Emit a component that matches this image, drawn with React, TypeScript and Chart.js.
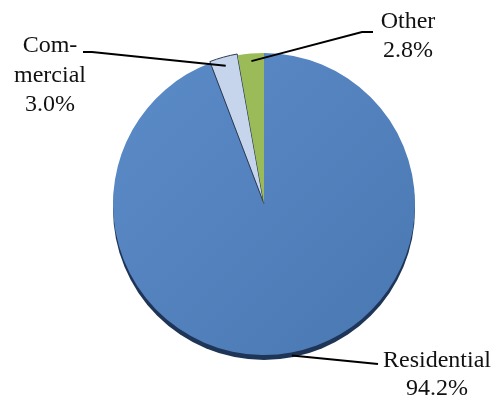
import React, { useEffect, useRef } from "react";
import { Chart, registerables } from "chart.js";

Chart.register(...registerables);

const categories = ["Residential", "Commercial", "Other"];
const values = [94.2, 3.0, 2.8];
const labelLines = [["Residential"], ["Com-", "mercial"], ["Other"]];
const sliceColors = ["#4F81BD", "#C6D5EC", "#9BBB59"];

// label layout: text box (centre x, top y, line height) and leader path end points
const labelLayout = [
  { cx: 437, top: 345, lh: 28, radial: 1.02, path: [[378, 364]] },
  { cx: 50, top: 30, lh: 29.5, radial: 0.95, path: [[92, 52], [83, 52]] },
  { cx: 408, top: 6, lh: 29, radial: 0.95, path: [[362, 32], [373, 32]] },
];

const shadowPlugin = {
  id: "pieShadow",
  beforeDatasetsDraw(chart: any) {
    const meta = chart.getDatasetMeta(0);
    const arc = meta.data[0];
    if (!arc) return;
    const { x, y, outerRadius } = arc.getProps(["x", "y", "outerRadius"], true);
    const ctx = chart.ctx;
    ctx.save();
    ctx.beginPath();
    ctx.arc(x, y + 5, outerRadius, 0, Math.PI * 2);
    ctx.fillStyle = "#1E3558";
    ctx.fill();
    ctx.restore();
  },
};

const leaderPlugin = {
  id: "pieLeaders",
  afterDatasetsDraw(chart: any) {
    const ctx = chart.ctx;
    const meta = chart.getDatasetMeta(0);
    meta.data.forEach((arc: any, i: number) => {
      const { x, y, startAngle, endAngle, outerRadius } = arc.getProps(
        ["x", "y", "startAngle", "endAngle", "outerRadius"],
        true
      );
      const mid = (startAngle + endAngle) / 2;
      const L = labelLayout[i];
      const ax = x + Math.cos(mid) * outerRadius * L.radial;
      const ay = y + Math.sin(mid) * outerRadius * L.radial;
      ctx.save();
      ctx.strokeStyle = "#000";
      ctx.lineWidth = 2;
      ctx.beginPath();
      ctx.moveTo(ax, ay);
      L.path.forEach((p) => ctx.lineTo(p[0], p[1]));
      ctx.stroke();
      ctx.restore();
    });
  },
};

export default function App() {
  const ref = useRef<HTMLCanvasElement | null>(null);
  useEffect(() => {
    document.body.style.margin = "0";
    const canvas = ref.current!;
    const chart = new Chart(canvas, {
      type: "pie",
      data: {
        labels: categories,
        datasets: [
          {
            data: values,
            backgroundColor: (c: any) => {
              const i = c.dataIndex;
              const area = c.chart.chartArea;
              if (i === 0 && area) {
                const g = c.chart.ctx.createLinearGradient(area.left, area.top, area.right, area.bottom);
                g.addColorStop(0, "#5C8CC8");
                g.addColorStop(1, "#4977B2");
                return g;
              }
              return sliceColors[i];
            },
            borderColor: ["rgba(0,0,0,0)", "#2B3B55", "rgba(0,0,0,0)"],
            borderWidth: [0, 1, 0],
            offset: [0, 3, 0],
          },
        ],
      },
      options: {
        responsive: false,
        animation: false,
        layout: { padding: { left: 111, right: 82, top: 51, bottom: 46 } },
        plugins: {
          legend: { display: false },
          tooltip: { enabled: false },
        },
      },
      plugins: [shadowPlugin, leaderPlugin],
    });
    return () => chart.destroy();
  }, []);
  return (
    <div style={{ position: "absolute", left: 0, top: 0, width: 499, height: 403, background: "#fff", overflow: "hidden" }}>
      <canvas ref={ref} width={499} height={403} style={{ position: "absolute", left: 0, top: 0 }} />
      {labelLayout.map((L, i) => (
        <div
          key={categories[i]}
          style={{
            position: "absolute",
            left: L.cx - 70,
            top: L.top,
            width: 140,
            textAlign: "center",
            fontFamily: '"Liberation Serif"',
            fontSize: 24,
            lineHeight: L.lh + "px",
            color: "#111",
            whiteSpace: "nowrap",
          }}
        >
          {[...labelLines[i], values[i].toFixed(1) + "%"].map((t) => (
            <div key={t}>{t}</div>
          ))}
        </div>
      ))}
    </div>
  );
}
